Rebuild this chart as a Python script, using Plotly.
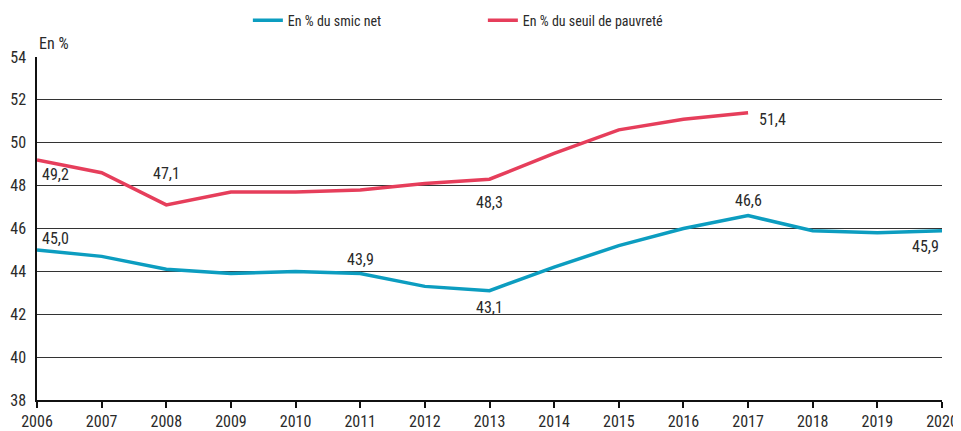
import plotly.graph_objects as go

years = list(range(2006, 2021))
smic = [45.0, 44.7, 44.1, 43.9, 44.0, 43.9, 43.3, 43.1, 44.2, 45.2, 46.0, 46.6, 45.9, 45.8, 45.9]
years_pauv = list(range(2006, 2018))
pauv = [49.2, 48.6, 47.1, 47.7, 47.7, 47.8, 48.1, 48.3, 49.5, 50.6, 51.1, 51.4]

name_smic = "En % du smic net"
name_pauv = "En % du seuil de pauvreté"
y_title = "En %"

# labelled points: (year, value, xshift, yshift)
labels_smic = [(2006, 45.0, 18, 11), (2011, 43.9, 0, 14), (2013, 43.1, 0, -17), (2017, 46.6, 0, 15), (2020, 45.9, -17, -16)]
labels_pauv = [(2006, 49.2, 18, -15), (2008, 47.1, 0, 31), (2013, 48.3, 0, -23), (2017, 51.4, 24, -7)]

blue = "#0C9DC0"
red = "#E63E5B"
font_family = "Liberation Sans Narrow, Roboto Condensed, Arial Narrow, Roboto, sans-serif"
txt = "#2a2a2a"

fig = go.Figure()
fig.add_trace(go.Scatter(x=years, y=smic, mode="lines", name=name_smic,
                         line=dict(color=blue, width=3.5), cliponaxis=False))
fig.add_trace(go.Scatter(x=years_pauv, y=pauv, mode="lines", name=name_pauv,
                         line=dict(color=red, width=3.5), cliponaxis=False))

ann = []
for (x, v, dx, dy) in labels_smic + labels_pauv:
    ann.append(dict(x=x, y=v, xref="x", yref="y", text=f"{v:.1f}".replace(".", ","),
                    showarrow=False, xshift=dx, yshift=dy,
                    font=dict(size=16, color=txt, family=font_family)))
ann.append(dict(x=0, y=1, xref="paper", yref="paper", text=y_title, showarrow=False,
                xanchor="left", yanchor="bottom", xshift=0, yshift=2,
                font=dict(size=16, color=txt, family=font_family)))

# page body has an 8px margin: figure is sized to fit the 961x431 window
fig.update_layout(
    width=953, height=423,
    margin=dict(l=29, r=19, t=49, b=31, autoexpand=False),
    paper_bgcolor="white", plot_bgcolor="white",
    font=dict(family=font_family, size=16, color=txt),
    showlegend=True,
    legend=dict(orientation="h", x=0.233, xanchor="left", y=0.970, yanchor="middle",
                yref="container", font=dict(size=14), entrywidth=190,
                entrywidthmode="pixels", traceorder="normal"),
    annotations=ann,
    xaxis=dict(range=[2006, 2020], dtick=1, tick0=2006, showgrid=False,
               showline=True, linecolor="#111111", linewidth=1.5,
               ticks="outside", ticklen=6, tickcolor="#111111", tickwidth=1.5,
               zeroline=False, tickfont=dict(size=16), automargin=False),
    yaxis=dict(range=[38, 54], dtick=2, tick0=38, showgrid=True,
               gridcolor="#333333", gridwidth=1,
               showline=True, linecolor="#111111", linewidth=1.5,
               ticks="", ticklen=0, zeroline=False, tickfont=dict(size=16),
               ticklabelstandoff=6, automargin=False),
)
fig.write_html("out.html")
